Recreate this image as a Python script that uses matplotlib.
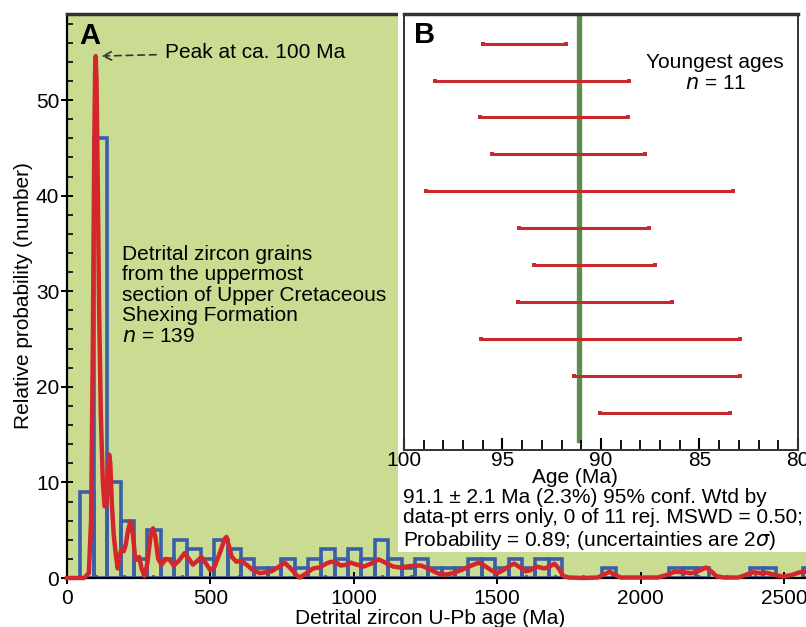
import matplotlib
matplotlib.use("Agg")
import matplotlib.pyplot as plt
from matplotlib.patches import Rectangle
from matplotlib.ticker import MultipleLocator
import numpy as np

plt.rcParams['font.family'] = ['Liberation Sans', 'DejaVu Sans']

# histogram (number of grains per bin), bins of 140/3 Ma starting at 0
bin_width = 140 / 3
counts = [0, 9, 46, 10, 6, 2, 5, 2, 4, 3, 2, 4, 3, 2, 1, 1, 2, 1, 2, 3,
          2, 3, 2, 4, 2, 1, 2, 1, 1, 1, 2, 2, 1, 2, 1, 2, 2, 0, 0, 0,
          1, 0, 0, 0, 0, 1, 1, 1, 0, 0, 0, 1, 1, 0, 0, 1]

# relative probability curve
prob_age = [0, 60, 76, 84, 90, 95, 98, 100, 103, 107, 112, 118, 125, 131, 137,
            142, 147, 151, 156, 163, 170, 177, 183, 190, 198, 205, 213, 221,
            230, 238, 245, 252, 260, 270, 280, 292, 300, 308, 318, 330, 345,
            358, 372, 390, 410, 425, 439, 455, 469, 485, 500, 515, 535, 550,
            556, 565, 575, 591, 605, 626, 645, 672, 693, 713, 735, 759, 780,
            800, 811, 830, 858, 880, 904, 920, 939, 955, 975, 990, 1010, 1035,
            1060, 1087, 1110, 1137, 1160, 1185, 1210, 1235, 1260, 1285, 1305,
            1330, 1355, 1380, 1410, 1435, 1455, 1480, 1500, 1520, 1545, 1560,
            1580, 1600, 1615, 1637, 1650, 1665, 1683, 1700, 1715, 1730, 1750,
            1800, 1850, 1875, 1892, 1910, 1930, 2060, 2090, 2119, 2150, 2177,
            2200, 2229, 2250, 2264, 2290, 2340, 2365, 2392, 2420, 2439, 2465,
            2497, 2525, 2555, 2600]
prob_val = [0, 0, 0.5, 6, 24, 45, 53, 54.6, 52, 42, 28, 17, 10, 7.5, 7.5,
            10, 12.9, 12, 8, 4.5, 2.5, 1, 2.3, 3, 2.8, 3.5, 5, 5.9,
            4.5, 2, 1.9, 2.2, 1, 0.2, 1.5, 4.5, 5.2, 4.3, 2, 1.4, 2.0,
            1.9, 1.3, 1.8, 2.6, 2.0, 1.4, 1.8, 2.2, 1.5, 0.8, 1.2, 2.8, 4.1,
            4.3, 3.3, 2.2, 1.7, 1.8, 1.4, 0.9, 0.5, 0.6, 0.7, 1.1, 1.6, 1.0,
            0.3, 0.05, 0.4, 1.0, 1.1, 1.5, 1.7, 1.6, 1.3, 1.4, 1.6, 1.4, 1.2,
            1.5, 1.95, 1.6, 1.2, 1.1, 1.2, 1.3, 1.3, 1.0, 0.6, 0.35,
            0.4, 0.6, 0.9, 1.3, 1.6, 1.3, 0.8, 0.5, 0.8, 1.3, 1.5,
            1.1, 0.7, 0.8, 1.2, 1.1, 1.0, 1.2, 1.5, 1.0, 0.2, 0.05,
            0, 0.05, 0.4, 0.66, 0.35, 0.05, 0.05, 0.3, 0.66, 0.6, 0.5,
            0.7, 1.1, 0.6, 0.2, 0.05, 0.05, 0.3, 0.6, 0.5, 0.55, 0.35,
            0.15, 0.3, 0.6, 0.7]

# youngest ages, 2 sigma ranges (top to bottom)
young_lo = [91.79, 88.56, 88.63, 87.77, 83.31, 87.56, 87.27, 86.41, 82.93, 82.94, 83.45]
young_hi = [95.97, 98.44, 96.13, 95.52, 98.88, 94.16, 93.38, 94.20, 96.09, 91.36, 90.03]
wtd_mean = 91.1

green_bg = '#c9dc91'
blue = '#3b5ea8'
red = '#d3262d'
fs = 15

fig = plt.figure(figsize=(8.06, 6.27), dpi=100)
ax = fig.add_axes([67 / 806, 49 / 627, 739 / 806, 564 / 627])
ax.set_facecolor(green_bg)

lefts = np.arange(len(counts)) * bin_width
for x0, c in zip(lefts, counts):
    if c > 0:
        ax.add_patch(Rectangle((x0, 0), bin_width, c, fill=False,
                               edgecolor=blue, linewidth=2.6, zorder=2))
ax.plot(prob_age, prob_val, color=red, linewidth=3.2, zorder=3,
        solid_joinstyle='round', clip_on=False)

ax.set_xlim(0, 2577)
ax.set_ylim(0, 59)
ax.xaxis.set_major_locator(MultipleLocator(500))
ax.xaxis.set_minor_locator(MultipleLocator(100))
ax.yaxis.set_major_locator(MultipleLocator(10))
ax.yaxis.set_minor_locator(MultipleLocator(2))
ax.tick_params(axis='both', which='major', labelsize=fs, direction='inout',
               length=9, width=1.4, color='black')
ax.tick_params(axis='y', which='major', pad=1)
ax.tick_params(axis='both', which='minor', direction='in', length=4, width=1.2)
ax.tick_params(axis='x', which='minor', length=2.5, width=2)
ax.spines['right'].set_visible(False)
ax.spines['top'].set_linewidth(2.5)
ax.spines['top'].set_color('#333333')
ax.spines['left'].set_linewidth(1.6)
ax.spines['bottom'].set_linewidth(1.6)
ax.set_xlabel('Detrital zircon U-Pb age (Ma)', fontsize=fs)
ax.xaxis.set_label_coords(0.492, -0.055)
ax.set_ylabel('Relative probability (number)', fontsize=fs)
ax.yaxis.set_label_coords(-0.046, 0.5)

ax.text(0.017, 0.985, 'A', transform=ax.transAxes, fontsize=21, fontweight='bold',
        va='top', ha='left')
ax.annotate('Peak at ca. 100 Ma', xy=(120, 54.6), xytext=(340, 55.0),
            fontsize=fs, va='center', ha='left',
            arrowprops=dict(arrowstyle='->', linestyle=(0, (4, 3)), color='#333333',
                            lw=1.2, shrinkA=4, shrinkB=0))
ax.text(191, 29.6, 'Detrital zircon grains\nfrom the uppermost\nsection of Upper Cretaceous\n'
        'Shexing Formation\n$\\it{n}$ = 139', fontsize=fs, va='center', ha='left',
        linespacing=1.1)

# white area behind the inset and its caption
fig.patches.append(Rectangle((398 / 806, 75 / 627), 408 / 806, 540 / 627,
                             transform=fig.transFigure, facecolor='white',
                             edgecolor='none', zorder=1))

axb = fig.add_axes([404 / 806, 177 / 627, 394 / 806, 436 / 627], zorder=2)
axb.set_facecolor('white')
ypos = np.arange(len(young_lo), 0, -1)
axb.hlines(ypos, young_lo, young_hi, color='#c8282e', linewidth=2.2)
axb.plot(young_lo, ypos, 's', color='#c8282e', markersize=3.5, markeredgewidth=0)
axb.plot(young_hi, ypos, 's', color='#c8282e', markersize=3.5, markeredgewidth=0)
axb.axvline(wtd_mean, ymin=0.023, ymax=0.99, color='#5b8c50', linewidth=3.8, zorder=1)
axb.set_xlim(100, 80)
axb.set_ylim(0, 11.8)
axb.set_yticks([])
axb.xaxis.set_major_locator(MultipleLocator(5))
axb.xaxis.set_minor_locator(MultipleLocator(1))
axb.tick_params(axis='x', which='major', direction='in', length=9, width=1.5,
                labelsize=fs, pad=1)
axb.tick_params(axis='x', which='minor', direction='in', length=7, width=1.3)
for s in axb.spines.values():
    s.set_linewidth(1.4)
    s.set_color('#333333')
axb.spines['top'].set_linewidth(2.5)
axb.set_xlabel('Age (Ma)', fontsize=fs)
axb.xaxis.set_label_coords(0.435, -0.041)
axb.text(0.025, 0.985, 'B', transform=axb.transAxes, fontsize=21, fontweight='bold',
         va='top', ha='left')
axb.text(0.79, 0.865, 'Youngest ages\n$\\it{n}$ = 11', transform=axb.transAxes,
         fontsize=fs, ha='center', va='center', linespacing=1.1)

fig.text(403 / 806, 1 - 520 / 627,
         '91.1 ± 2.1 Ma (2.3%) 95% conf. Wtd by\n'
         'data-pt errs only, 0 of 11 rej. MSWD = 0.50;\n'
         'Probability = 0.89; (uncertainties are 2$\\sigma$)',
         fontsize=fs, ha='left', va='center', linespacing=1.1, zorder=3)

fig.savefig('out.png', dpi=100)
